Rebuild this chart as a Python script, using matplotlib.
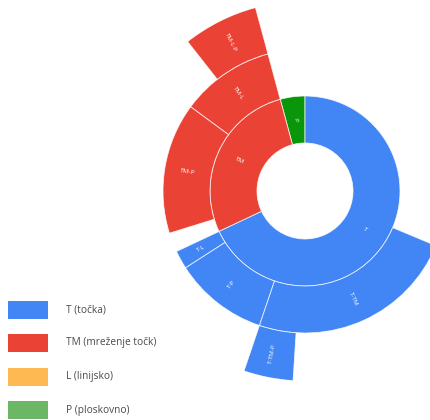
import numpy as np
import matplotlib
matplotlib.use("Agg")
import matplotlib.pyplot as plt
from matplotlib.patches import Rectangle

# ---- data (values as share of total, %) ----
level1_labels = ["P", "TM", "T"]
level1_values = [4.2, 27.8, 68.0]

level2_labels = ["TM-L", "TM-P", "T-L", "T-P", "T-TM"]
level2_parents = ["TM", "TM", "T", "T", "T"]
level2_values = [10.7, 14.9, 2.1, 10.7, 23.9]

level3_labels = ["TM-L-P", "T-TM-P"]
level3_parents = ["TM-L", "T-TM"]
level3_values = [6.4, 4.2]

legend_labels = ["T (točka)", "TM (mreženje točk)", "L (linijsko)", "P (ploskovno)"]
legend_colors = ["#4285F4", "#EA4335", "#FFB952", "#6BB764"]

node_colors = {"T": "#4285F4", "TM": "#EA4335", "P": "#0A960A"}

W, H = 430, 420
fig = plt.figure(figsize=(W / 100, H / 100), dpi=100)

cx, cy, R = 305, 191, 190
ax = fig.add_axes([(cx - R) / W, (H - cy - R) / H, 2 * R / W, 2 * R / H], projection="polar")
ax.set_theta_zero_location("N")
ax.set_theta_direction(1)
ax.set_ylim(0, R)
ax.axis("off")

ring_inner = [48, 95, 142]
ring_outer = [95, 142, 190]
total = sum(level1_values)


def deg(v):
    return v / total * 360.0


def draw(label, start, span, level, color):
    r0, r1 = ring_inner[level], ring_outer[level]
    ax.bar(np.radians(start + span / 2), r1 - r0, width=np.radians(span), bottom=r0,
           color=color, edgecolor=(1, 1, 1, 0.8), linewidth=0.6, align="center")
    mid = start + span / 2
    rot = (90 + mid) % 360
    if 90 < rot < 270:
        rot -= 180
    ax.text(np.radians(mid), (r0 + r1) / 2, label, rotation=rot, rotation_mode="anchor",
            ha="center", va="center", color="white", fontsize=4.6,
            family=["Open Sans", "DejaVu Sans"])


starts = {}
a = 0.0
for lab, v in zip(level1_labels, level1_values):
    sp = deg(v)
    draw(lab, a, sp, 0, node_colors[lab])
    starts[lab] = a
    a += sp

cursor = dict(starts)
for lab, par, v in zip(level2_labels, level2_parents, level2_values):
    sp = deg(v)
    s = cursor[par]
    draw(lab, s, sp, 1, node_colors[par])
    starts[lab] = s
    cursor[par] = s + sp
    cursor[lab] = s

for lab, par, v in zip(level3_labels, level3_parents, level3_values):
    sp = deg(v)
    s = cursor[par]
    root = lab.split("-")[0]
    draw(lab, s, sp, 2, node_colors[root])
    cursor[par] = s + sp

# ---- legend ----
row_centers = [310, 343, 377, 410]
for lab, col, yc in zip(legend_labels, legend_colors, row_centers):
    fig.patches.append(Rectangle((8 / W, 1 - (yc + 9) / H), 40 / W, 18 / H,
                                 transform=fig.transFigure, facecolor=col, edgecolor="none"))
    fig.text(66 / W, 1 - yc / H, lab, ha="left", va="center", fontsize=7.3,
             color="#4a4a4a", family=["Open Sans", "DejaVu Sans"])

fig.savefig("out.png", dpi=100)
